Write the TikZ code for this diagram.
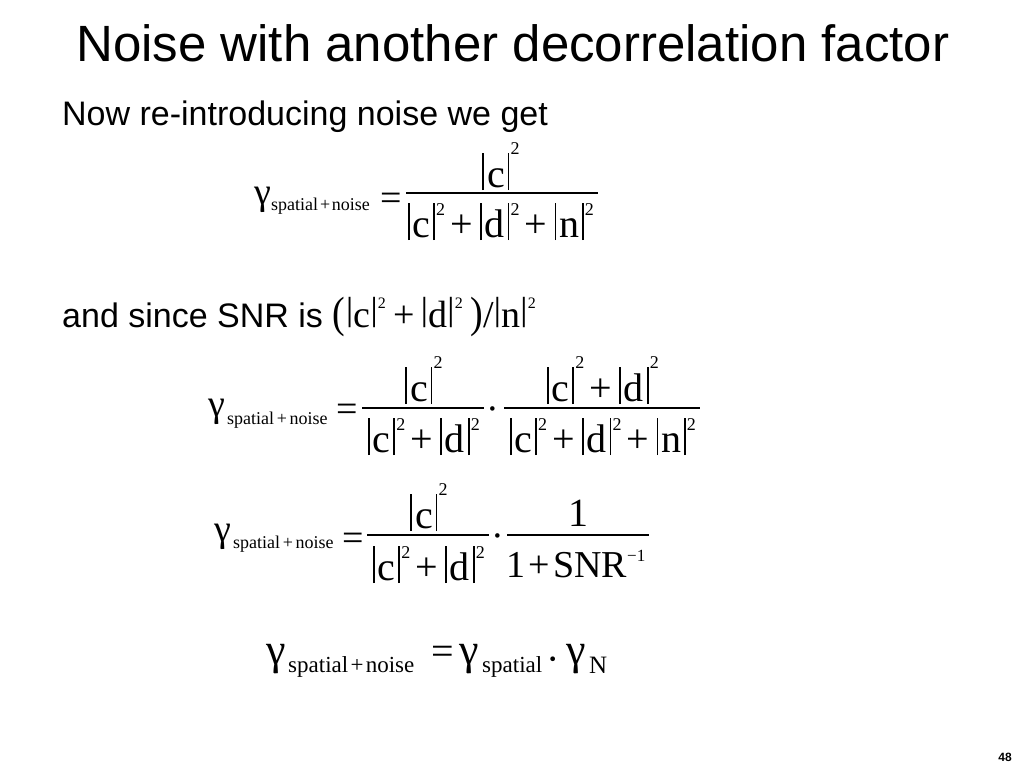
\documentclass[tikz,border=0pt]{standalone}
\usepackage{fontspec}
\usepackage{graphicx}
\setmainfont{Liberation Sans}
\newfontfamily\tm{Liberation Serif}
\newcommand\fs[1]{\fontsize{#1}{#1}\selectfont}
\newcommand\vb{\rule[-0.08em]{0.045em}{0.93em}}
\newcommand\av[1]{\kern0.05em\vb\kern0.07em#1\kern0.07em\vb}
\newcommand\supN{\raisebox{0.82em}{\scalebox{0.45}{2}}}
\newcommand\supD{\raisebox{0.55em}{\scalebox{0.45}{2}}}
\newcommand\an[1]{\av{#1}\kern0.03em\supN}
\newcommand\ad[1]{\av{#1}\kern0.03em\supD}
\newcommand\pl{\kern0.13em+\kern0.13em}
\newcommand\tb{\raisebox{0.17em}{\scalebox{1}[0.88]{|}}}
\newcommand\ts{\raisebox{0.5em}{\scalebox{0.42}{2}}}
\newcommand\bpar[1]{\raisebox{-0.02em}{\scalebox{1}[1.15]{#1}}}
\tikzset{
  eq/.style={font=\tm\fs{40}, inner sep=0pt, anchor=base},
  eqw/.style={font=\tm\fs{38}, inner sep=0pt, anchor=base west},
  sub/.style={font=\tm\fs{18}, inner sep=0pt, anchor=base west},
  subb/.style={font=\tm\fs{23}, inner sep=0pt, anchor=base west},
  fracline/.style={line width=1.5pt},
  body/.style={font=\fs{34}, inner sep=0pt, anchor=base west},
}
\begin{document}
\begin{tikzpicture}[x=1pt,y=-1pt]
\useasboundingbox (0,0) rectangle (1024,768);
\fill[white] (0,0) rectangle (1024,768);
% title and text
\node[font=\fs{51}, inner sep=0pt, anchor=base west] (title) at (76,62) {Noise with another decorrelation factor};
\node[body] (t1) at (62,125) {Now re-introducing noise we get};
\node[body] (t2) at (62,327) {and since SNR is {\tm\fs{38}\bpar{(}\kern0.02em\tb c\tb\ts\kern0.2em+\kern0.15em\tb d\tb\ts\kern0.2em\bpar{)}/\tb n\tb\ts}};
% equation 1
\node[eqw] (g1) at (254,204) {γ};
\node[sub] (s1) at (271,210) {spatial\kern.1em+\kern.1em noise};
\node[eqw] (e1) at (380,210) {=};
\coordinate (r1a) at (406,193); \coordinate (r1b) at (598,193);
\draw[fracline] (r1a) -- (r1b);
\node[eq] (n1) at (500,187) {\an{c}};
\node[eq] (d1) at (500,237) {\ad{c}\pl\ad{d}\pl\ad{n}};
% equation 2
\node[eqw] (g2) at (208,416) {γ};
\node[sub] (s2) at (227,424) {spatial\kern.15em+\kern.15em noise};
\node[eqw] (e2) at (336,421) {=};
\coordinate (r2a) at (362,408); \coordinate (r2b) at (484,408);
\draw[fracline] (r2a) -- (r2b);
\node[eqw] (c2) at (486,421) {·};
\coordinate (r2c) at (504,408); \coordinate (r2d) at (700,408);
\draw[fracline] (r2c) -- (r2d);
\node[eq] (n2a) at (423,401) {\an{c}};
\node[eq] (d2a) at (423,452) {\ad{c}\pl\ad{d}};
\node[eq] (n2b) at (602,401) {\an{c}\pl\an{d}};
\node[eq] (d2b) at (602,452) {\ad{c}\pl\ad{d}\pl\ad{n}};
% equation 3
\node[eqw] (g3) at (214,541) {γ};
\node[sub] (s3) at (233,548) {spatial\kern.15em+\kern.15em noise};
\node[eqw] (e3) at (342,550) {=};
\coordinate (r3a) at (367,535); \coordinate (r3b) at (489,535);
\draw[fracline] (r3a) -- (r3b);
\node[eqw] (c3) at (491,548) {·};
\coordinate (r3c) at (507,535); \coordinate (r3d) at (649,535);
\draw[fracline] (r3c) -- (r3d);
\node[eq] (n3a) at (428,528) {\an{c}};
\node[eq] (d3a) at (428,580) {\ad{c}\pl\ad{d}};
\node[eq] (n3b) at (578,526) {1};
\node[eq, font=\tm\fs{38}] (d3b) at (576,577) {1\kern0.08em+\kern0.08em SNR\raisebox{0.42em}{\scalebox{0.45}{−1}}};
% equation 4
\node[eqw, font=\tm\fs{44}] (g4) at (266,664) {γ};
\node[subb] (s4) at (288,672) {spatial\kern.1em+\kern.1em noise};
\node[eqw, font=\tm\fs{40}] (e4) at (431,664) {=};
\node[eqw, font=\tm\fs{44}] (g4b) at (459,664) {γ};
\node[subb] (s4b) at (482,672) {spatial};
\node[eqw, font=\tm\fs{40}] (c4) at (546,672) {·};
\node[eqw, font=\tm\fs{44}] (g4c) at (566,664) {γ};
\node[subb, font=\tm\fs{25}] (s4c) at (589,673) {N};
% page number
\node[font=\bfseries\fs{12}, inner sep=0pt, anchor=base] (pg) at (1005,761) {48};
\end{tikzpicture}
\end{document}
